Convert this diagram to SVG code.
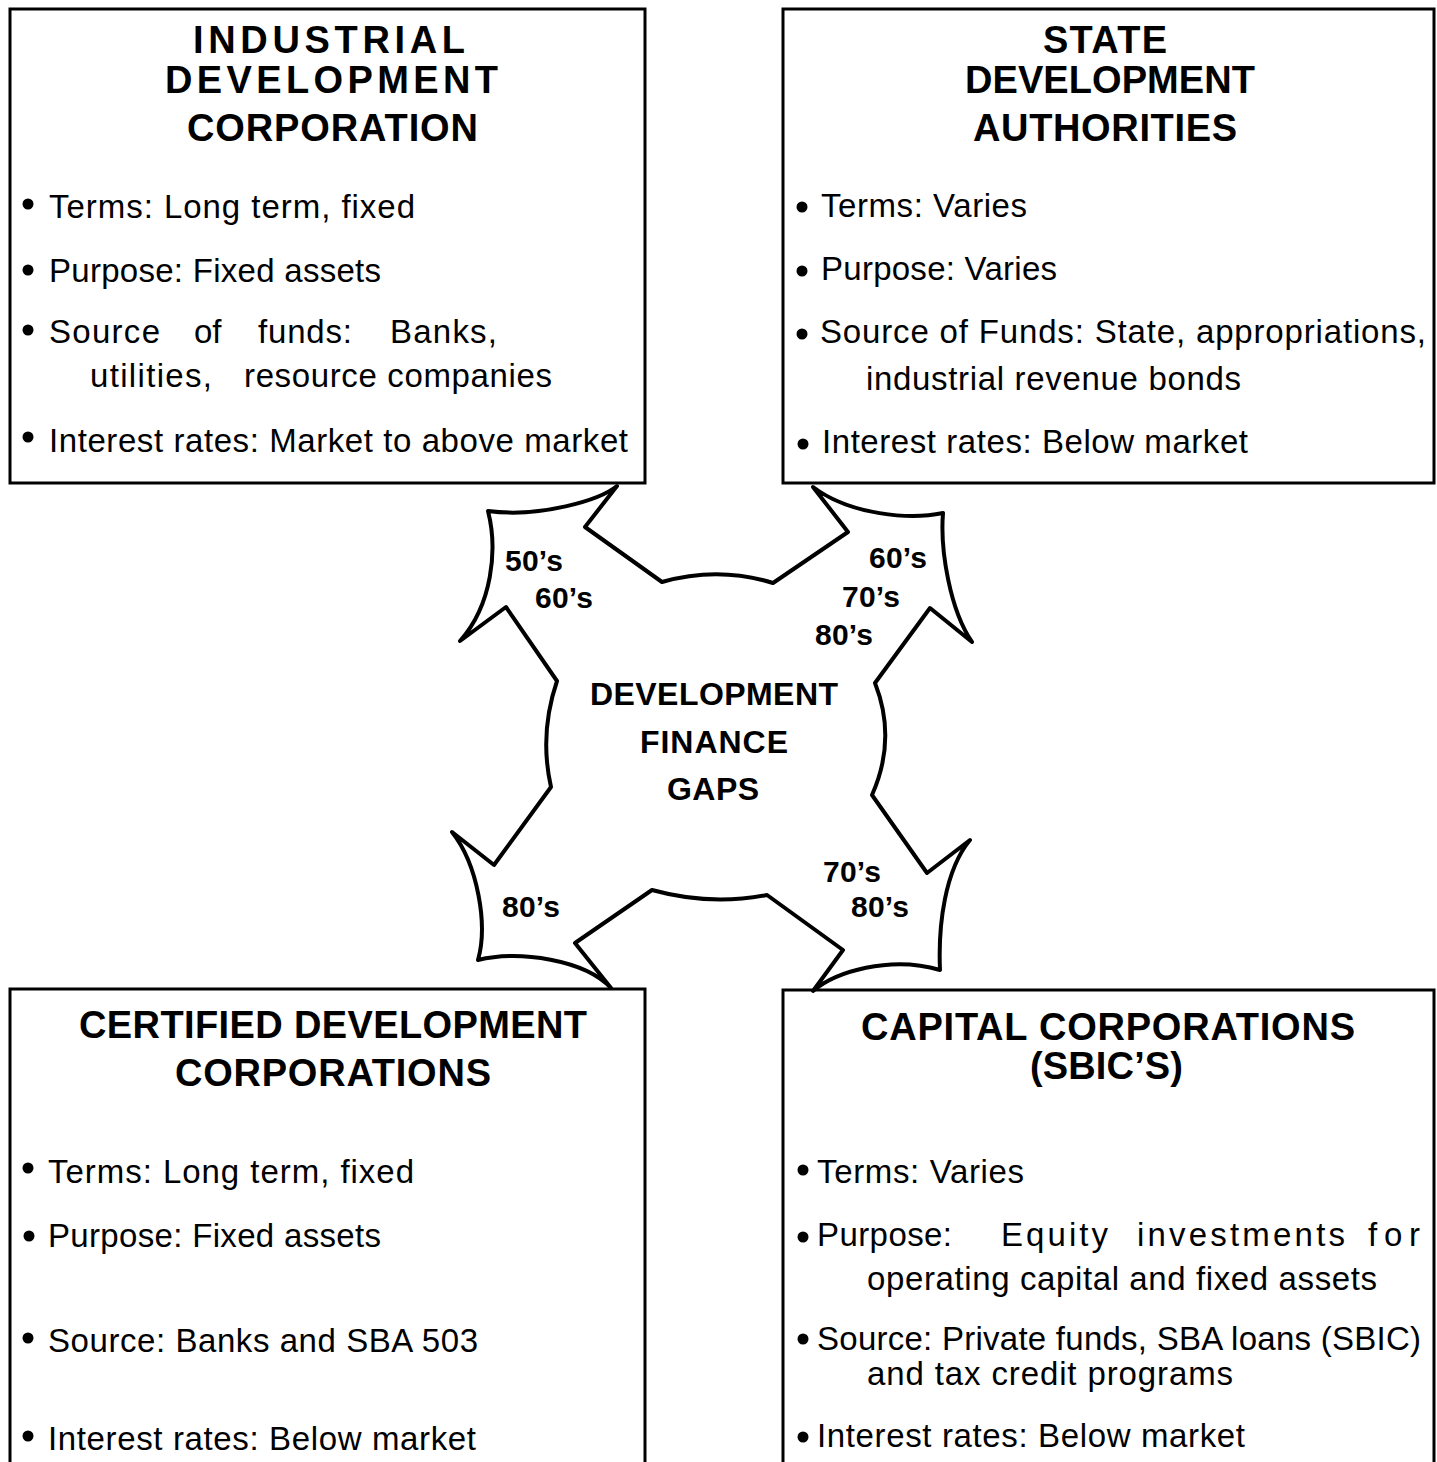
<svg xmlns="http://www.w3.org/2000/svg" width="1437" height="1462" viewBox="0 0 1437 1462">
  <style>
    .box { fill: #fff; stroke: #000; stroke-width: 3; }
    .gap { fill: #fff; stroke: #000; stroke-width: 4; stroke-linejoin: round; }
    .title { font-family: "Liberation Sans", Arial, sans-serif; font-weight: bold; font-size: 38px; fill: #000; }
    .body { font-family: "Liberation Sans", Arial, sans-serif; font-size: 33px; fill: #000; }
    .era { font-family: "Liberation Sans", Arial, sans-serif; font-weight: bold; font-size: 30px; fill: #000; }
    .center { font-family: "Liberation Sans", Arial, sans-serif; font-weight: bold; font-size: 32px; fill: #000; }
    .dot { fill: #000; }
  </style>

  <rect width="1437" height="1462" fill="#fff"/>

  <!-- Industrial Development Corporation -->
  <g id="industrial-development-corporation">
    <rect class="box" x="10" y="9" width="635" height="474"/>
    <text class="title" x="193" y="53" textLength="272">INDUSTRIAL</text>
    <text class="title" x="165" y="93" textLength="333">DEVELOPMENT</text>
    <text class="title" x="187" y="141" textLength="291">CORPORATION</text>
    <circle class="dot" cx="28" cy="204" r="5.5"/>
    <text class="body" x="49" y="218" textLength="366">Terms: Long term, fixed</text>
    <circle class="dot" cx="28" cy="270" r="5.5"/>
    <text class="body" x="49" y="282" textLength="332">Purpose: Fixed assets</text>
    <circle class="dot" cx="28" cy="330" r="5.5"/>
    <text class="body" x="49" y="343" textLength="111">Source</text>
    <text class="body" x="194" y="343">of</text>
    <text class="body" x="258" y="343" textLength="94">funds:</text>
    <text class="body" x="390" y="343" textLength="107">Banks,</text>
    <text class="body" x="90" y="387" textLength="122">utilities,</text>
    <text class="body" x="244" y="387" textLength="308">resource companies</text>
    <circle class="dot" cx="28" cy="437" r="5.5"/>
    <text class="body" x="49" y="452" textLength="579">Interest rates: Market to above market</text>
  </g>

  <!-- State Development Authorities -->
  <g id="state-development-authorities">
    <rect class="box" x="783" y="9" width="651" height="474"/>
    <text class="title" x="1043" y="53" textLength="124">STATE</text>
    <text class="title" x="965" y="93" textLength="290">DEVELOPMENT</text>
    <text class="title" x="973" y="141" textLength="264">AUTHORITIES</text>
    <circle class="dot" cx="802" cy="207" r="5.5"/>
    <text class="body" x="821" y="217" textLength="206">Terms: Varies</text>
    <circle class="dot" cx="802" cy="271" r="5.5"/>
    <text class="body" x="821" y="280" textLength="236">Purpose: Varies</text>
    <circle class="dot" cx="802" cy="334" r="5.5"/>
    <text class="body" x="820" y="343" textLength="606">Source of Funds: State, appropriations,</text>
    <text class="body" x="866" y="390" textLength="375">industrial revenue bonds</text>
    <circle class="dot" cx="803" cy="444" r="5.5"/>
    <text class="body" x="822" y="453" textLength="426">Interest rates: Below market</text>
  </g>

  <!-- Certified Development Corporations -->
  <g id="certified-development-corporations">
    <rect class="box" x="10" y="989" width="635" height="490"/>
    <text class="title" x="79" y="1038" textLength="508">CERTIFIED DEVELOPMENT</text>
    <text class="title" x="175" y="1086" textLength="316">CORPORATIONS</text>
    <circle class="dot" cx="28" cy="1168" r="5.5"/>
    <text class="body" x="48" y="1183" textLength="366">Terms: Long term, fixed</text>
    <circle class="dot" cx="29" cy="1236" r="5.5"/>
    <text class="body" x="48" y="1247" textLength="333">Purpose: Fixed assets</text>
    <circle class="dot" cx="28" cy="1338" r="5.5"/>
    <text class="body" x="48" y="1352" textLength="430">Source: Banks and SBA 503</text>
    <circle class="dot" cx="28" cy="1436" r="5.5"/>
    <text class="body" x="48" y="1450" textLength="428">Interest rates: Below market</text>
  </g>

  <!-- Capital Corporations (SBICs) -->
  <g id="capital-corporations">
    <rect class="box" x="783" y="990" width="651" height="490"/>
    <text class="title" x="861" y="1040" textLength="494">CAPITAL CORPORATIONS</text>
    <text class="title" x="1030" y="1079" textLength="153">(SBIC’S)</text>
    <circle class="dot" cx="803" cy="1170" r="5.5"/>
    <text class="body" x="817" y="1183" textLength="207">Terms: Varies</text>
    <circle class="dot" cx="803" cy="1237" r="5.5"/>
    <text class="body" x="817" y="1246" textLength="135">Purpose:</text>
    <text class="body" x="1001" y="1246" textLength="107">Equity</text>
    <text class="body" x="1137" y="1246" textLength="208">investments</text>
    <text class="body" x="1368" y="1246" textLength="52">for</text>
    <text class="body" x="867" y="1290" textLength="510">operating capital and fixed assets</text>
    <circle class="dot" cx="803" cy="1339" r="5.5"/>
    <text class="body" x="817" y="1350" textLength="604">Source: Private funds, SBA loans (SBIC)</text>
    <text class="body" x="867" y="1385" textLength="366">and tax credit programs</text>
    <circle class="dot" cx="803" cy="1437" r="5.5"/>
    <text class="body" x="817" y="1447" textLength="428">Interest rates: Below market</text>
  </g>

  <!-- Development finance gaps: four-armed burst reaching each box -->
  <g id="development-finance-gaps">
    <path class="gap" d="M617,486
      C600,500 540,518 488,511
      C498,550 492,605 460,641
      L506,607 L557,681
      Q539,734 551,787
      L494,865 L452,832
      C478,865 488,925 478,960
      C520,950 585,960 611,988
      L575,943 L652,890
      Q710,906 767,895
      L843,950 L813,991
      C835,972 890,955 940,970
      C938,925 945,870 970,840
      L927,873 L872,795
      Q897,739 875,683
      L930,608 L972,642
      C950,610 940,550 943,513
      C910,520 850,515 813,487
      L848,532 L773,583
      Q718,566 662,582
      L585,527 Z"/>
    <text class="center" x="590" y="705" textLength="248">DEVELOPMENT</text>
    <text class="center" x="640" y="753" textLength="148">FINANCE</text>
    <text class="center" x="667" y="800" textLength="92">GAPS</text>
    <text class="era" x="505" y="571" textLength="58">50’s</text>
    <text class="era" x="535" y="608" textLength="58">60’s</text>
    <text class="era" x="869" y="568" textLength="58">60’s</text>
    <text class="era" x="842" y="607" textLength="58">70’s</text>
    <text class="era" x="815" y="645" textLength="58">80’s</text>
    <text class="era" x="502" y="917" textLength="58">80’s</text>
    <text class="era" x="823" y="882" textLength="58">70’s</text>
    <text class="era" x="851" y="917" textLength="58">80’s</text>
  </g>
</svg>
